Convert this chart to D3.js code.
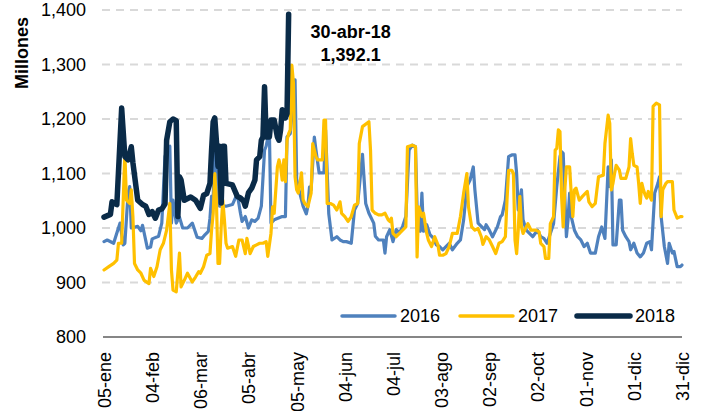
<!DOCTYPE html>
<html>
<head>
<meta charset="utf-8">
<script src="https://cdn.jsdelivr.net/npm/d3@7"></script>
<style>
  html, body { margin: 0; padding: 0; background: #fff; }
  svg text { font-family: Arial, "Liberation Sans", sans-serif; }
</style>
</head>
<body>
<svg id="chart" width="707" height="411"></svg>
<script>
// ---- data (day offset from 05-ene, value in millones) ----
const tickLabels = ["05-ene","04-feb","06-mar","05-abr","05-may","04-jun","04-jul","03-ago","02-sep","02-oct","01-nov","01-dic","31-dic"];
const tickDays = [0,30,60,90,120,150,180,210,240,270,300,330,360];
const yTicks = [800,900,1000,1100,1200,1300,1400];
const seriesNames = ["2016","2017","2018"];

const s2016 = [[0,975],[2,978],[6,972],[8,991],[10,1009],[12,969],[13,972],[15,1064],[16,1076],[17,1000],[21,1003],[23,995],[24,1005],[27,963],[29,965],[30,980],[34,985],[36,1009],[38,1131],[40,1149],[41,1150],[42,1009],[43,1051],[45,1009],[47,1020],[49,1000],[52,1000],[55,1009],[58,983],[61,981],[63,988],[65,994],[66,1018],[67,1058],[68,1051],[69,1167],[70,1143],[71,1051],[72,1040],[76,1040],[80,1043],[83,1063],[85,1027],[86,1012],[88,1021],[90,1000],[92,1015],[94,1012],[96,1018],[98,1040],[100,1143],[101,1150],[103,1180],[104,1009],[106,1015],[111,1021],[113,1021],[114,1167],[116,1173],[119,1272],[120,1090],[121,1075],[124,1040],[126,1026],[127,1040],[128,1075],[129,1070],[131,1167],[132,1143],[134,1101],[137,1101],[138,1180],[140,1026],[142,978],[145,984],[147,978],[149,975],[151,975],[154,972],[156,1033],[158,1045],[161,1135],[163,1045],[165,1027],[168,1009],[169,985],[171,978],[174,978],[175,954],[176,984],[178,997],[180,975],[182,997],[184,991],[186,1003],[188,1021],[190,1143],[192,1152],[194,1149],[195,1036],[197,994],[198,1064],[199,994],[201,1006],[203,988],[205,982],[207,969],[209,966],[211,960],[213,966],[215,972],[217,960],[220,972],[222,978],[224,1015],[226,1076],[228,1088],[230,1112],[231,1070],[233,1009],[235,1003],[237,997],[238,1006],[240,996],[242,984],[245,1002],[247,1021],[248,1024],[250,1051],[252,1131],[254,1134],[256,1134],[257,1100],[258,1033],[260,1070],[261,1015],[263,996],[265,990],[267,984],[270,996],[272,984],[274,981],[276,972],[278,990],[280,1008],[282,1076],[284,1131],[285,1140],[286,1137],[287,1058],[288,984],[289,1015],[290,1064],[291,1021],[293,996],[295,984],[297,978],[299,966],[301,972],[303,954],[306,954],[308,984],[310,1002],[312,981],[314,1112],[315,1076],[316,1125],[317,969],[319,969],[321,1051],[322,1051],[323,996],[325,984],[327,975],[328,960],[330,972],[332,954],[334,947],[336,954],[338,972],[340,975],[341,960],[343,1064],[345,1082],[346,1094],[347,1021],[349,966],[351,935],[352,972],[354,954],[355,957],[357,929],[359,929],[360,932]];

const s2017 = [[0,923],[3,929],[6,935],[8,941],[9,972],[11,972],[13,1137],[14,1051],[16,1045],[17,1070],[18,1021],[19,935],[21,923],[23,917],[25,904],[28,898],[29,926],[31,911],[33,929],[35,960],[37,972],[39,996],[41,1045],[42,923],[43,886],[45,883],[47,954],[48,892],[50,904],[52,917],[55,901],[57,910],[59,920],[60,917],[62,929],[64,950],[66,953],[67,996],[68,1026],[69,1100],[70,1051],[71,935],[72,935],[73,1002],[74,1051],[75,1015],[76,972],[77,963],[80,966],[82,948],[84,978],[86,978],[88,953],[89,981],[91,953],[93,966],[95,969],[97,972],[99,972],[101,975],[102,948],[104,990],[105,1039],[106,1027],[108,1112],[109,1125],[110,1112],[111,1088],[112,1125],[113,1085],[114,1161],[115,1173],[116,1180],[117,1299],[118,1266],[119,1094],[120,1070],[121,1064],[123,1101],[124,1052],[125,1045],[127,1039],[129,1064],[130,1155],[132,1131],[133,1125],[136,1125],[137,1198],[138,1198],[139,1045],[141,1045],[143,1042],[145,1033],[147,1048],[148,1027],[150,1021],[152,1012],[154,1021],[156,1042],[158,1045],[159,1155],[161,1186],[165,1195],[166,1143],[167,1033],[169,1027],[171,1024],[173,1024],[175,1027],[177,1015],[178,1012],[179,1018],[180,990],[182,984],[184,990],[186,996],[188,1002],[189,1149],[192,1152],[194,1149],[195,947],[196,1039],[198,1021],[199,1027],[201,990],[202,978],[204,966],[206,984],[208,969],[209,950],[211,950],[213,953],[215,966],[217,990],[220,990],[222,1021],[224,1064],[226,1100],[227,1039],[229,1002],[231,996],[233,999],[235,984],[236,970],[238,984],[240,978],[242,966],[244,953],[246,972],[248,975],[250,984],[251,1051],[252,1106],[254,1106],[255,1100],[256,978],[257,953],[258,996],[259,1058],[260,1002],[261,990],[263,1002],[264,1008],[266,996],[269,996],[271,993],[272,972],[274,966],[275,944],[277,944],[278,1008],[280,1021],[281,1143],[282,1146],[283,1180],[284,1177],[285,1058],[286,1002],[287,1070],[288,1112],[290,1112],[291,1064],[292,1021],[293,1070],[294,1073],[296,1051],[298,1058],[301,1067],[302,1048],[304,1039],[306,1045],[307,1070],[308,1094],[311,1097],[312,1155],[314,1207],[315,1192],[316,1070],[317,1082],[318,1100],[319,1115],[321,1106],[322,1091],[325,1091],[327,1112],[328,1164],[329,1137],[330,1115],[332,1112],[333,1082],[334,1045],[335,1082],[336,1070],[337,1061],[338,1055],[339,1067],[340,1058],[341,1051],[342,1223],[344,1229],[346,1226],[347,1021],[348,1070],[350,1082],[351,1085],[354,1085],[355,1033],[357,1018],[359,1021],[360,1021]];

const s2018 = [[0,1020],[4,1025],[5,1048],[8,1043],[11,1220],[13,1131],[15,1125],[17,1149],[18,1120],[21,1051],[24,1043],[26,1040],[28,1025],[30,1030],[32,1018],[34,1033],[36,1035],[38,1044],[39,1161],[41,1195],[43,1200],[45,1197],[46,1021],[47,1094],[48,1088],[50,1051],[54,1057],[57,1051],[60,1036],[62,1060],[64,1063],[66,1082],[67,1143],[68,1195],[69,1202],[70,1160],[71,1113],[72,1150],[73,1046],[74,1150],[75,1150],[76,1082],[80,1079],[83,1058],[85,1055],[87,1049],[88,1040],[90,1065],[92,1073],[94,1088],[95,1125],[97,1131],[98,1161],[99,1167],[100,1259],[101,1167],[103,1167],[104,1198],[106,1198],[108,1167],[109,1161],[110,1180],[111,1217],[113,1202],[114,1210],[115,1392.1]];

const annotLines = ["30-abr-18", "1,392.1"];

// ---- drawing ----
const svg = d3.select("#chart");
const x = d3.scaleLinear().domain([0, 360]).range([104, 682]);
const y = d3.scaleLinear().domain([800, 1400]).range([337, 10]);

// gridlines
svg.append("g")
  .selectAll("line")
  .data(yTicks.filter(v => v > 800))
  .join("line")
  .attr("x1", x(0) - 2).attr("x2", x(360))
  .attr("y1", d => y(d)).attr("y2", d => y(d))
  .attr("stroke", "#d9d9d9").attr("stroke-width", 2)
  .attr("stroke-dasharray", "8,6");

// y axis labels
const yAxis = d3.axisLeft(y).tickValues(yTicks).tickFormat(d3.format(",")).tickSize(0).tickPadding(0);
const gy = svg.append("g").attr("transform", "translate(86,0)").call(yAxis);
gy.select(".domain").remove();
gy.selectAll("text").attr("font-size", 18).attr("fill", "#000").attr("font-family", "Arial, 'Liberation Sans', sans-serif");

// x axis
const xAxis = d3.axisBottom(x).tickValues(tickDays).tickFormat((d, i) => tickLabels[i]).tickSize(0);
const gx = svg.append("g").attr("transform", `translate(0,${y(800)})`).call(xAxis);
gx.select(".domain").attr("stroke", "#868686").attr("stroke-width", 2).attr("d", `M${x(0)-1},0H${x(360)}`);
gx.selectAll("text")
  .attr("font-size", 18).attr("fill", "#000")
  .attr("font-family", "Arial, 'Liberation Sans', sans-serif")
  .attr("text-anchor", "end")
  .attr("transform", "rotate(-90)")
  .attr("x", -15).attr("y", 0).attr("dy", "0.36em");

// lines
const line = d3.line().x(d => x(d[0])).y(d => y(d[1])).curve(d3.curveLinear);
const seriesData = [s2016, s2017, s2018];
const colors = ["#4F81BD", "#FFC000", "#0A2B48"];
const widths = [3.2, 3.2, 5.5];
seriesData.forEach((s, i) => {
  svg.append("path").datum(s)
    .attr("d", line)
    .attr("fill", "none")
    .attr("stroke", colors[i])
    .attr("stroke-width", widths[i])
    .attr("stroke-linejoin", "round")
    .attr("stroke-linecap", "round");
});

// annotation
const last = s2018[s2018.length - 1];
const ann = svg.append("text")
  .attr("x", x(last[0]) + 62).attr("text-anchor", "middle")
  .attr("font-size", 18).attr("font-weight", "bold").attr("fill", "#000");
annotLines.forEach((t, i) => {
  ann.append("tspan").attr("x", x(last[0]) + 62).attr("y", 38 + i * 23).text(t);
});

// y title
svg.append("text")
  .attr("transform", "translate(28,53) rotate(-90)")
  .attr("text-anchor", "middle")
  .attr("font-size", 18).attr("font-weight", "bold").attr("fill", "#000")
  .text("Millones");

// legend
const legX = [342, 460, 577];
const legY = 316;
seriesNames.forEach((n, i) => {
  svg.append("line")
    .attr("x1", legX[i]).attr("x2", legX[i] + 53)
    .attr("y1", legY).attr("y2", legY)
    .attr("stroke", colors[i]).attr("stroke-width", i === 2 ? 5.5 : 3.5)
    .attr("stroke-linecap", "round");
  svg.append("text")
    .attr("x", legX[i] + 58).attr("y", legY).attr("dy", "0.36em")
    .attr("font-size", 18).attr("fill", "#000")
    .text(n);
});
</script>
</body>
</html>
